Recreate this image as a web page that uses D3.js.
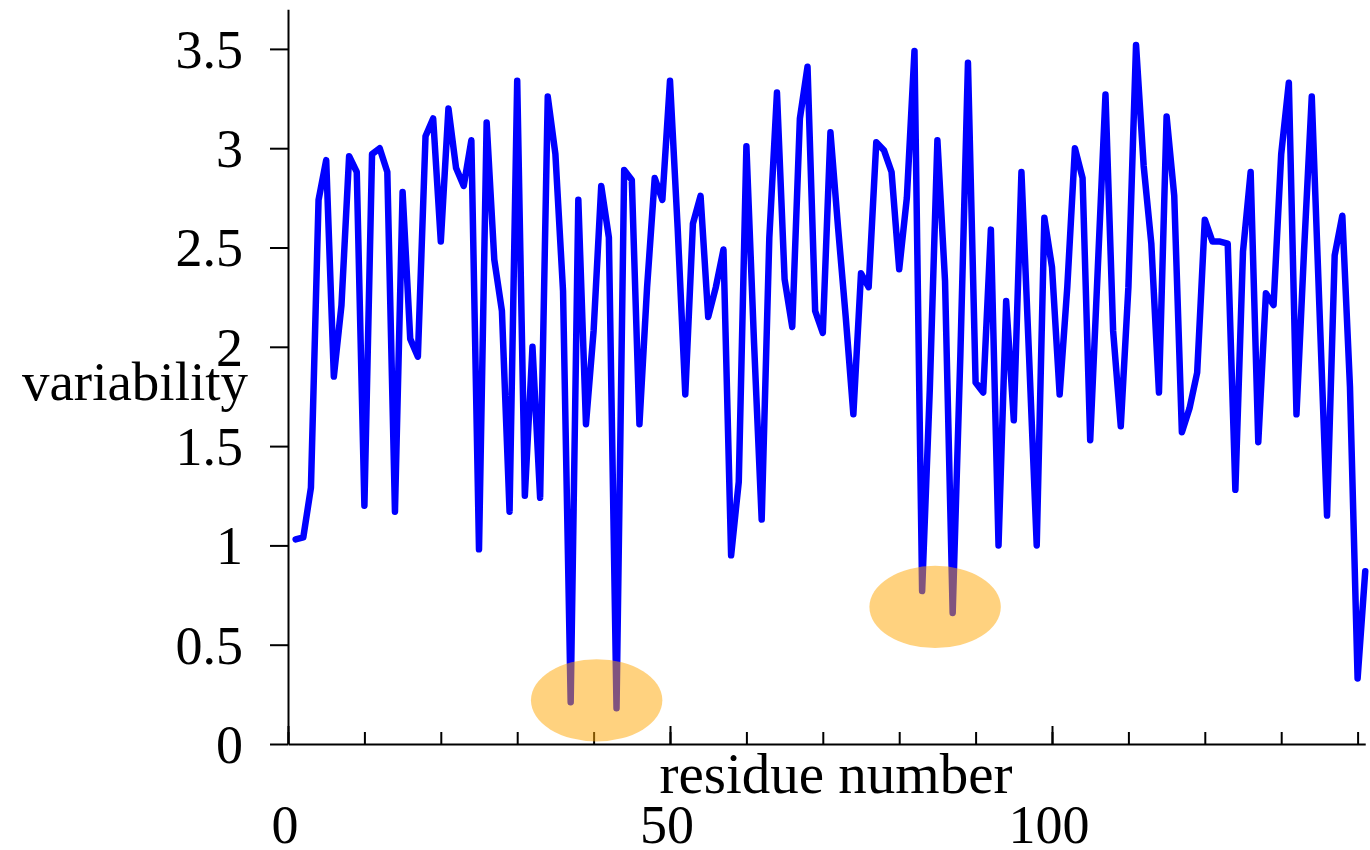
<!DOCTYPE html>
<html>
<head>
<meta charset="utf-8">
<script src="https://cdn.jsdelivr.net/npm/d3@7"></script>
<style>
  body { margin: 0; background: #fff; }
  text { font-family: "Liberation Serif", "Times New Roman", serif; fill: #000; }
</style>
</head>
<body>
<script>
// residue 1..141
var residues = d3.range(1, 142);
var variability = [
  1.03, 1.04, 1.29, 2.74, 2.94, 1.85, 2.21, 2.96, 2.88, 1.20,
  2.97, 3.00, 2.88, 1.17, 2.78, 2.04, 1.95, 3.06, 3.15, 2.53,
  3.20, 2.90, 2.81, 3.04, 0.98, 3.13, 2.44, 2.18, 1.17, 3.34,
  1.25, 2.00, 1.24, 3.26, 2.97, 2.28, 0.21, 2.74, 1.61, 2.08,
  2.81, 2.55, 0.18, 2.89, 2.84, 1.61, 2.30, 2.85, 2.74, 3.34,
  2.60, 1.76, 2.62, 2.76, 2.15, 2.30, 2.49, 0.95, 1.32, 3.01,
  2.02, 1.13, 2.55, 3.28, 2.34, 2.10, 3.15, 3.41, 2.18, 2.07,
  3.08, 2.60, 2.15, 1.66, 2.37, 2.30, 3.03, 2.99, 2.88, 2.39,
  2.75, 3.49, 0.77, 1.78, 3.04, 2.33, 0.66, 1.95, 3.43, 1.82,
  1.77, 2.59, 1.00, 2.23, 1.63, 2.88, 1.95, 1.00, 2.65, 2.40,
  1.76, 2.30, 3.00, 2.85, 1.53, 2.40, 3.27, 2.08, 1.60, 2.30,
  3.52, 2.91, 2.52, 1.77, 3.16, 2.76, 1.57, 1.69, 1.87, 2.64,
  2.53, 2.53, 2.52, 1.28, 2.48, 2.88, 1.52, 2.27, 2.21, 2.97,
  3.33, 1.66, 2.49, 3.26, 2.20, 1.15, 2.46, 2.66, 1.80, 0.33,
  0.87
];
var yTicks = [0, 0.5, 1, 1.5, 2, 2.5, 3, 3.5];
var xMinorTicks = d3.range(0, 141, 10);
var xMajorTicks = [0, 50, 100];
// highlighted low-variability spots: centre residue, centre value, radii
var highlightX = [40.4, 84.7];
var highlightY = [0.22, 0.69];
var highlightRx = [8.6, 8.6];
var highlightRy = [0.207, 0.207];

var W = 1370, H = 850;
var fontSize = 54;

var x = d3.scaleLinear().domain([0, 141]).range([288, 288 + 141 * 7.64]);
var y = d3.scaleLinear().domain([0, 3.7]).range([744, 744 - 3.7 * 198.6]);

var svg = d3.select("body").append("svg")
    .attr("width", W)
    .attr("height", H);

// y axis
var yAxis = d3.axisLeft(y)
    .tickValues(yTicks)
    .tickFormat(function(d){ return String(d); })
    .tickSize(18)
    .tickSizeOuter(0)
    .tickPadding(27);

var gy = svg.append("g")
    .attr("transform", "translate(" + x(0) + ",0)")
    .call(yAxis);
gy.selectAll("text")
    .style("font-size", fontSize + "px")
    .style("font-family", '"Liberation Serif", serif')
    .attr("dy", "0.34em");
gy.selectAll("line, path").attr("stroke", "#000").attr("stroke-width", 2);

// x axis, ticks point up into the plot
var xAxisMinor = d3.axisBottom(x)
    .tickValues(xMinorTicks)
    .tickFormat("")
    .tickSize(-12)
    .tickSizeOuter(0);
var gx = svg.append("g")
    .attr("transform", "translate(0," + y(0) + ")")
    .call(xAxisMinor);
gx.selectAll("line, path").attr("stroke", "#000").attr("stroke-width", 2);

var xAxisMajor = d3.axisBottom(x)
    .tickValues(xMajorTicks)
    .tickFormat("")
    .tickSize(-18)
    .tickSizeOuter(0);
var gx2 = svg.append("g")
    .attr("transform", "translate(0," + y(0) + ")")
    .call(xAxisMajor);
gx2.select(".domain").remove();
gx2.selectAll("line").attr("stroke", "#000").attr("stroke-width", 2);

// x tick labels sit below the axis title
svg.append("g").selectAll("text")
    .data(xMajorTicks)
    .enter().append("text")
    .attr("x", function(d){ return x(d) - 3; })
    .attr("y", 843)
    .attr("text-anchor", "middle")
    .style("font-size", fontSize + "px")
    .text(function(d){ return d; });

// axis titles
svg.append("text")
    .attr("x", 836)
    .attr("y", 793)
    .attr("text-anchor", "middle")
    .style("font-size", "57px")
    .text("residue number");

svg.append("text")
    .attr("x", 248)
    .attr("y", 400)
    .attr("text-anchor", "end")
    .style("font-size", "55px")
    .text("variability");

// data line
var line = d3.line()
    .x(function(d, i){ return x(residues[i]); })
    .y(function(d){ return y(d); });

svg.append("path")
    .datum(variability)
    .attr("d", line)
    .attr("fill", "none")
    .attr("stroke", "#0000ff")
    .attr("stroke-width", 6.5)
    .attr("stroke-linejoin", "round")
    .attr("stroke-linecap", "round");

// highlight ellipses drawn over the line
svg.append("g").selectAll("ellipse")
    .data(highlightX)
    .enter().append("ellipse")
    .attr("cx", function(d){ return x(d); })
    .attr("cy", function(d, i){ return y(highlightY[i]); })
    .attr("rx", function(d, i){ return x(highlightRx[i]) - x(0); })
    .attr("ry", function(d, i){ return y(0) - y(highlightRy[i]); })
    .attr("fill", "#ffa500")
    .attr("fill-opacity", 0.5);
</script>
</body>
</html>
